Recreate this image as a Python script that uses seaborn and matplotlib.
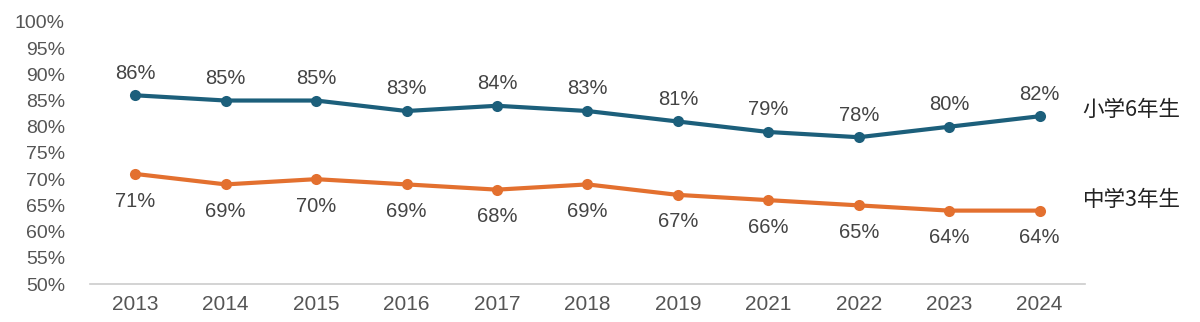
import matplotlib
matplotlib.use("Agg")
import matplotlib.pyplot as plt
from matplotlib.ticker import FixedLocator, FuncFormatter
import pandas as pd
import seaborn as sns

years = ["2013", "2014", "2015", "2016", "2017", "2018", "2019", "2021", "2022", "2023", "2024"]
elementary = [86, 85, 85, 83, 84, 83, 81, 79, 78, 80, 82]   # 小学6年生
junior_high = [71, 69, 70, 69, 68, 69, 67, 66, 65, 64, 64]  # 中学3年生
series_names = ["小学6年生", "中学3年生"]
y_ticks = list(range(50, 101, 5))

sns.set_theme(style="white")
plt.rcParams["font.family"] = ["Liberation Sans", "Noto Sans CJK JP", "DejaVu Sans"]

df = pd.DataFrame({
    "year": years * 2,
    "pct": elementary + junior_high,
    "group": [series_names[0]] * len(years) + [series_names[1]] * len(years),
})
df["pos"] = list(range(len(years))) * 2

palette = {series_names[0]: "#1c5f7b", series_names[1]: "#e3702f"}

fig = plt.figure(figsize=(12, 3.22), dpi=100)
ax = fig.add_axes([0.075, 0.118, 0.829, 0.814])

sns.lineplot(data=df, x="pos", y="pct", hue="group", palette=palette,
             marker="o", markersize=8, markeredgewidth=0, linewidth=3,
             legend=False, ax=ax)

ax.set_xlim(-0.5, len(years) - 0.5)
ax.set_ylim(50, 100)
ax.xaxis.set_major_locator(FixedLocator(range(len(years))))
ax.set_xticklabels(years)
ax.yaxis.set_major_locator(FixedLocator(y_ticks))
ax.yaxis.set_major_formatter(FuncFormatter(lambda v, _: f"{int(v)}%"))
ax.tick_params(axis="both", colors="#555555", length=0)
ax.tick_params(axis="y", labelsize=14, pad=18)
ax.tick_params(axis="x", labelsize=15, pad=8)
ax.set_xlabel("")
ax.set_ylabel("")

for side in ["top", "right", "left"]:
    ax.spines[side].set_visible(False)
ax.spines["bottom"].set_color("#cccccc")
ax.spines["bottom"].set_linewidth(1.2)

# value labels: above the upper line, below the lower line
for i, v in enumerate(elementary):
    ax.annotate(f"{v}%", (i, v), xytext=(0, 16), textcoords="offset points",
                ha="center", va="center", fontsize=14.5, color="#444444")
for i, v in enumerate(junior_high):
    ax.annotate(f"{v}%", (i, v), xytext=(0, -19.5), textcoords="offset points",
                ha="center", va="center", fontsize=14.5, color="#444444")

# series names at the right end
last = len(years) - 1
cjk = ["Noto Sans CJK JP", "DejaVu Sans"]
ax.annotate(series_names[0], (last, elementary[-1]), xytext=(31, 4.5),
            textcoords="offset points", ha="left", va="center", fontsize=15.5,
            color="#222222", family=cjk, annotation_clip=False)
ax.annotate(series_names[1], (last, junior_high[-1]), xytext=(31, 8),
            textcoords="offset points", ha="left", va="center", fontsize=15.5,
            color="#222222", family=cjk, annotation_clip=False)

fig.savefig("out.png", dpi=100, facecolor="white")
